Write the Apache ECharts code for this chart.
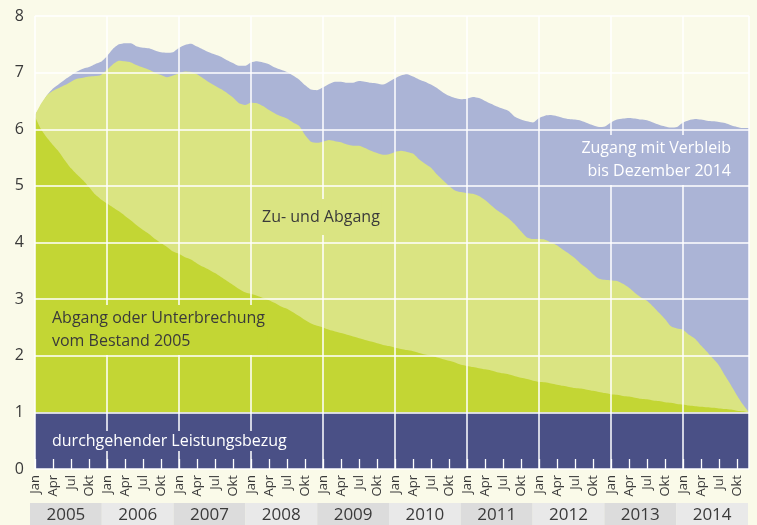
<!DOCTYPE html>
<html>
<head>
<meta charset="utf-8">
<script src="https://cdn.jsdelivr.net/npm/echarts@6/dist/echarts.min.js"></script>
<style>
  html, body { margin: 0; padding: 0; background: #fafae9; }
  #main { width: 757px; height: 525px; }
</style>
</head>
<body>
<div id="main"></div>
<script type="text/javascript">
var years = ['2005', '2006', '2007', '2008', '2009', '2010', '2011', '2012', '2013', '2014'];
var monthNames = ['Jan', 'Feb', 'Mär', 'Apr', 'Mai', 'Jun', 'Jul', 'Aug', 'Sep', 'Okt', 'Nov', 'Dez'];

// Obergrenze "Zugang mit Verbleib bis Dezember 2014"
var zugangTop = [
  6.25, 6.42, 6.60, 6.72, 6.80, 6.88, 6.95, 7.02, 7.07, 7.10, 7.15, 7.19,
  7.29, 7.42, 7.50, 7.52, 7.52, 7.46, 7.44, 7.43, 7.39, 7.36, 7.35, 7.36,
  7.44, 7.49, 7.51, 7.46, 7.41, 7.36, 7.32, 7.28, 7.22, 7.17, 7.12, 7.12,
  7.18, 7.20, 7.18, 7.15, 7.09, 7.05, 7.01, 6.95, 6.88, 6.78, 6.70, 6.69,
  6.74, 6.80, 6.84, 6.84, 6.82, 6.82, 6.85, 6.84, 6.82, 6.81, 6.79, 6.84,
  6.90, 6.95, 6.97, 6.93, 6.88, 6.84, 6.79, 6.73, 6.65, 6.59, 6.55, 6.53,
  6.54, 6.57, 6.55, 6.50, 6.45, 6.40, 6.36, 6.32, 6.22, 6.17, 6.14, 6.12,
  6.20, 6.24, 6.25, 6.23, 6.20, 6.18, 6.17, 6.15, 6.11, 6.07, 6.04, 6.05,
  6.12, 6.17, 6.19, 6.20, 6.19, 6.17, 6.16, 6.12, 6.08, 6.05, 6.03, 6.04,
  6.12, 6.16, 6.18, 6.17, 6.15, 6.14, 6.13, 6.11, 6.07, 6.04, 6.02, 6.02
];
// Obergrenze "Zu- und Abgang"
var zuAbgangTop = [
  6.25, 6.45, 6.60, 6.68, 6.73, 6.78, 6.84, 6.89, 6.91, 6.93, 6.94, 6.96,
  7.05, 7.15, 7.21, 7.20, 7.18, 7.13, 7.09, 7.05, 7.00, 6.96, 6.92, 6.95,
  6.99, 7.02, 7.01, 6.97, 6.90, 6.83, 6.77, 6.71, 6.64, 6.56, 6.46, 6.43,
  6.47, 6.46, 6.41, 6.34, 6.28, 6.23, 6.19, 6.12, 6.06, 5.90, 5.78, 5.76,
  5.78, 5.81, 5.79, 5.77, 5.73, 5.71, 5.71, 5.67, 5.62, 5.58, 5.55, 5.56,
  5.60, 5.62, 5.60, 5.57, 5.47, 5.39, 5.32, 5.20, 5.10, 5.00, 4.92, 4.89,
  4.87, 4.86, 4.82, 4.75, 4.66, 4.57, 4.50, 4.42, 4.32, 4.20, 4.09, 4.06,
  4.06, 4.05, 4.00, 3.95, 3.87, 3.80, 3.72, 3.62, 3.54, 3.44, 3.36, 3.34,
  3.33, 3.32, 3.27, 3.20, 3.11, 3.03, 2.97, 2.87, 2.76, 2.65, 2.52, 2.48,
  2.46, 2.37, 2.30, 2.18, 2.07, 1.95, 1.83, 1.65, 1.48, 1.30, 1.14, 1.00
];
// Obergrenze "Abgang oder Unterbrechung vom Bestand 2005"
var abgangTop = [
  6.22, 6.00, 5.85, 5.72, 5.60, 5.45, 5.31, 5.20, 5.10, 4.98, 4.85, 4.76,
  4.69, 4.62, 4.55, 4.47, 4.39, 4.30, 4.22, 4.15, 4.06, 3.99, 3.92, 3.84,
  3.80, 3.74, 3.70, 3.63, 3.57, 3.52, 3.46, 3.39, 3.32, 3.25, 3.18, 3.12,
  3.09, 3.06, 3.02, 2.98, 2.93, 2.87, 2.83, 2.77, 2.70, 2.63, 2.57, 2.53,
  2.50, 2.46, 2.43, 2.40, 2.37, 2.34, 2.31, 2.28, 2.25, 2.22, 2.19, 2.17,
  2.14, 2.12, 2.10, 2.08, 2.05, 2.02, 2.00, 1.97, 1.94, 1.91, 1.88, 1.84,
  1.82, 1.80, 1.78, 1.76, 1.74, 1.71, 1.69, 1.67, 1.64, 1.61, 1.59, 1.56,
  1.54, 1.53, 1.51, 1.49, 1.47, 1.45, 1.43, 1.42, 1.40, 1.38, 1.36, 1.34,
  1.32, 1.31, 1.29, 1.28, 1.26, 1.24, 1.23, 1.21, 1.20, 1.18, 1.17, 1.15,
  1.14, 1.12, 1.11, 1.10, 1.09, 1.08, 1.07, 1.06, 1.05, 1.03, 1.02, 1.00
];
// durchgehender Leistungsbezug
var bezugValue = 1;

var categories = [];
var bezug = [];
years.forEach(function (y) {
  monthNames.forEach(function (m) {
    categories.push(m + ' ' + y);
    bezug.push(bezugValue);
  });
});

var FONT = '"Open Sans", "Noto Sans", sans-serif';
var chart = echarts.init(document.getElementById('main'));

function area(name, data, color) {
  return {
    name: name,
    type: 'line',
    data: data,
    symbol: 'none',
    smooth: 0.2,
    lineStyle: { width: 0, opacity: 0 },
    areaStyle: { color: color, opacity: 1, origin: 'start' },
    silent: true,
    z: 1
  };
}

var option = {
  backgroundColor: '#fafae9',
  animation: false,
  grid: [
    { left: 35, right: 8, top: 16, bottom: 56 },
    { left: 30, right: 9, top: 503, height: 22 }
  ],
  xAxis: [{
    type: 'category',
    data: categories,
    boundaryGap: false,
    z: 3,
    axisLine: { show: false },
    axisTick: {
      show: true,
      inside: true,
      length: 10,
      interval: function (i) { return i % 3 === 0; },
      lineStyle: { color: '#ffffff', width: 1.3 }
    },
    splitLine: {
      show: true,
      interval: function (i) { return i % 12 === 0 || i === categories.length - 1; },
      lineStyle: { color: '#ffffff', width: 1.5 }
    },
    axisLabel: {
      interval: function (i) { return i % 3 === 0; },
      rotate: 90,
      margin: 6,
      color: '#3a3a3a',
      fontFamily: FONT,
      fontSize: 13,
      formatter: function (v) { return v.split(' ')[0]; }
    }
  }, {
    type: 'category',
    gridIndex: 1,
    data: years,
    position: 'top',
    boundaryGap: true,
    axisLine: { show: false },
    axisTick: { show: false },
    splitArea: { show: true, areaStyle: { color: ['#dcdcdc', '#e9e9e9'] } },
    axisLabel: {
      inside: true,
      margin: 4,
      color: '#3a3a3a',
      fontFamily: FONT,
      fontSize: 17
    }
  }],
  yAxis: [{
    type: 'value',
    min: 0,
    max: 8,
    interval: 1,
    z: 3,
    axisLine: { show: false },
    axisTick: { show: false },
    splitLine: { show: true, lineStyle: { color: '#ffffff', width: 1.5 } },
    axisLabel: { color: '#3a3a3a', fontFamily: FONT, fontSize: 16, margin: 11 }
  }, {
    type: 'value',
    gridIndex: 1,
    show: false
  }],
  series: [
    area('Zugang mit Verbleib bis Dezember 2014', zugangTop, '#abb4d6'),
    area('Zu- und Abgang', zuAbgangTop, '#dae482'),
    area('Abgang oder Unterbrechung vom Bestand 2005', abgangTop, '#c3d634'),
    area('durchgehender Leistungsbezug', bezug, '#4a5086')
  ],
  graphic: [
    {
      type: 'text', x: 50, y: 441, z: 100,
      style: {
        text: 'durchgehender Leistungsbezug', fill: '#ffffff', font: '16px ' + FONT,
        verticalAlign: 'middle', backgroundColor: '#4a5086', padding: [4, 2, 0, 2]
      }
    },
    {
      type: 'text', x: 50, y: 330, z: 100,
      style: {
        text: 'Abgang oder Unterbrechung\nvom Bestand 2005', fill: '#3a3a3a', font: '16px ' + FONT,
        lineHeight: 23, verticalAlign: 'middle', backgroundColor: '#c3d634', padding: [2, 2, 2, 2]
      }
    },
    {
      type: 'text', x: 260, y: 217, z: 100,
      style: {
        text: 'Zu- und Abgang', fill: '#3a3a3a', font: '16px ' + FONT,
        verticalAlign: 'middle', backgroundColor: '#dae482', padding: [10, 2, 10, 2]
      }
    },
    {
      type: 'text', x: 733, y: 160, z: 100,
      style: {
        text: 'Zugang mit Verbleib\nbis Dezember 2014', fill: '#ffffff', font: '16px ' + FONT,
        lineHeight: 23, align: 'right', verticalAlign: 'middle',
        backgroundColor: '#abb4d6', padding: [2, 2, 2, 2]
      }
    }
  ]
};

chart.setOption(option);
</script>
</body>
</html>
